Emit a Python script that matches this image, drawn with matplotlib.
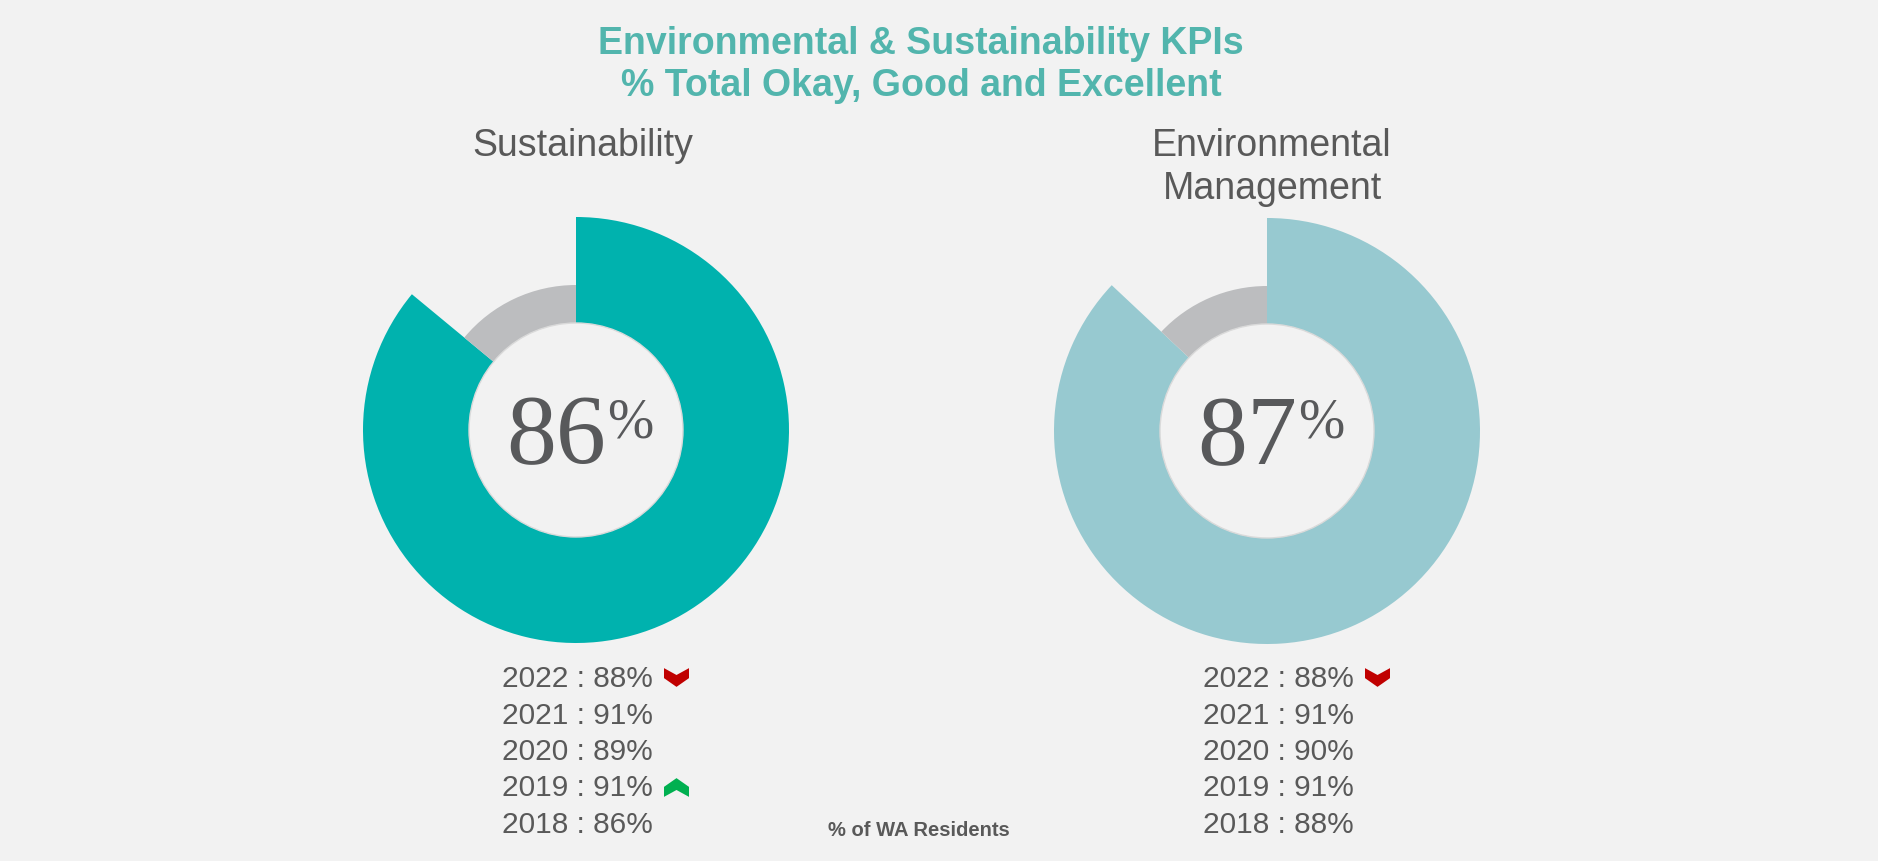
"""
Environmental & Sustainability KPI donuts with yearly history underneath.
"""
import numpy as np
import matplotlib
matplotlib.use("Agg")
import matplotlib.pyplot as plt
from matplotlib.path import Path

# data
kpi_names = ["Sustainability", "Environmental\nManagement"]
kpi_current = [86, 87]
years = [2022, 2021, 2020, 2019, 2018]
sustainability_hist = [88, 91, 89, 91, 86]
environmental_hist = [88, 91, 90, 91, 88]
sustainability_trend = ["down", None, None, "up", None]
environmental_trend = ["down", None, None, None, None]

title_lines = ["Environmental & Sustainability KPIs", "% Total Okay, Good and Excellent"]
footnote = "% of WA Residents"

# styling
W, H = 1878, 861
BG = "#F2F2F2"
TEXT = "#595959"
TITLE = "#52B5AD"
RING_COLORS = ["#00B2AE", "#97C9D0"]
REST = "#BCBDBF"
UP, DOWN = "#00B050", "#C00000"

plt.rcParams["font.family"] = ["Liberation Sans", "DejaVu Sans"]

# chevron marker shapes
down_chevron = Path([(-1, 0.75), (0, 0.2), (1, 0.75), (1, -0.05),
                     (0, -0.75), (-1, -0.05), (-1, 0.75)])
up_chevron = Path([(x, -y) for x, y in down_chevron.vertices])


def Y(y):
    # layout was measured from the top of the picture
    return H - y


fig = plt.figure(figsize=(W / 100, H / 100), dpi=100, facecolor=BG)
ax = fig.add_axes([0, 0, 1, 1])
ax.set_facecolor(BG)

centers = [(576, 430), (1267, 431)]
outer_r, inner_r, rest_r = 213, 107, 145
subtitle_x = [583, 1272]
hist_x = [502, 1203]
histories = [sustainability_hist, environmental_hist]
trends = [sustainability_trend, environmental_trend]

for k, name in enumerate(kpi_names):
    cx, cy = centers[k]
    value = kpi_current[k]
    parts = [value, 100 - value]

    # main ring
    ax.pie(parts, radius=outer_r, center=(cx, Y(cy)), startangle=90,
           counterclock=False, colors=[RING_COLORS[k], "none"],
           wedgeprops=dict(width=outer_r - inner_r, linewidth=0, edgecolor="none"))
    # thinner remainder ring
    ax.pie(parts, radius=rest_r, center=(cx, Y(cy)), startangle=90,
           counterclock=False, colors=["none", REST],
           wedgeprops=dict(width=rest_r - inner_r, linewidth=0, edgecolor="none"))
    ring_edge = plt.Circle((cx, Y(cy)), inner_r, facecolor="none",
                           edgecolor="#DADADA", linewidth=1.0)
    ax.add_patch(ring_edge)

    # big number in the middle
    ax.text(cx + 30, Y(cy + 33), f"{value}", ha="right", va="baseline",
            fontsize=72, color="#58595B", family=["Liberation Serif", "DejaVu Serif"])
    ax.text(cx + 31, Y(cy - 33), "%", ha="left", va="top",
            fontsize=40, color="#58595B", family=["Liberation Serif", "DejaVu Serif"])

    # kpi name
    for j, line in enumerate(name.split("\n")):
        ax.text(subtitle_x[k], Y(156 + j * 43), line, ha="center", va="baseline",
                fontsize=27, color=TEXT)

    # yearly history
    for i, (yr, v) in enumerate(zip(years, histories[k])):
        base = 687 + i * 36.5
        ax.text(hist_x[k], Y(base), f"{yr} : {v}%", ha="left", va="baseline",
                fontsize=21.5, color=TEXT)
        t = trends[k][i]
        if t is not None:
            ax.plot(hist_x[k] + 174, Y(base - 10),
                    marker=down_chevron if t == "down" else up_chevron,
                    markersize=18, color=DOWN if t == "down" else UP,
                    markeredgewidth=0, linestyle="none")

# title
for j, line in enumerate(title_lines):
    ax.text(921, Y(54 + j * 42), line, ha="center", va="baseline",
            fontsize=27, fontweight="bold", color=TITLE)

ax.text(919, Y(836), footnote, ha="center", va="baseline",
        fontsize=14.5, fontweight="bold", color=TEXT)

ax.set_xlim(0, W)
ax.set_ylim(0, H)
ax.set_aspect("auto")
ax.axis("off")

fig.savefig("out.png", dpi=100, facecolor=BG)
